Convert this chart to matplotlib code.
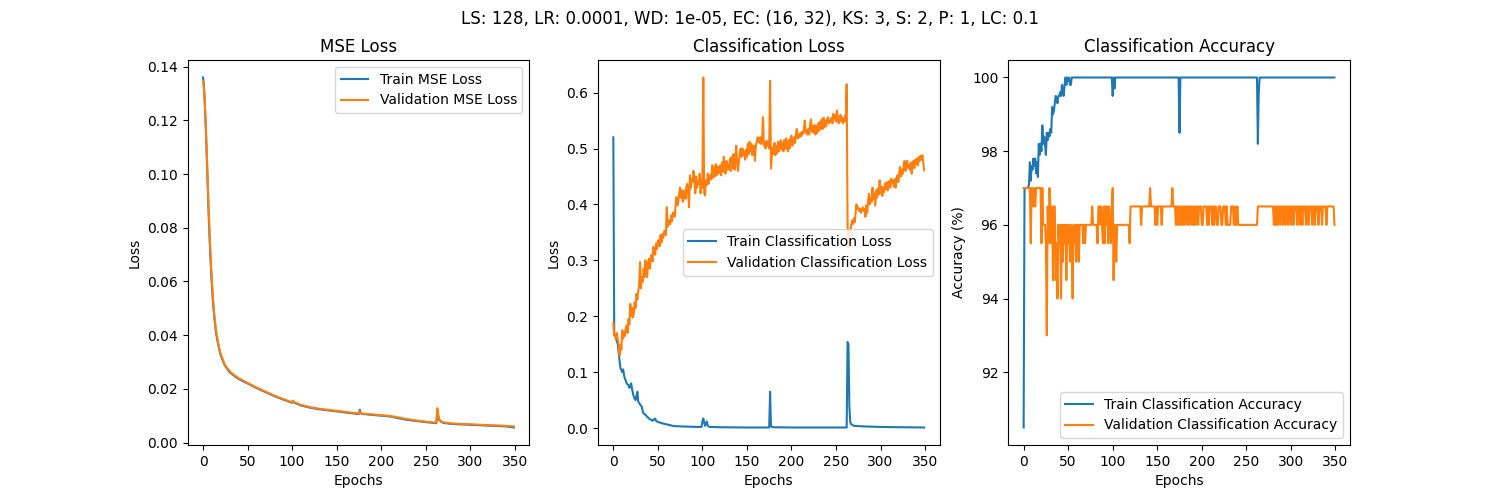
import numpy as np
import matplotlib
matplotlib.use('Agg')
import matplotlib.pyplot as plt

TITLE = 'LS: 128, LR: 0.0001, WD: 1e-05, EC: (16, 32), KS: 3, S: 2, P: 1, LC: 0.1'
N_EPOCHS = 350

# MSE loss at the epochs listed
mse_epochs = [0, 1, 2, 3, 4, 5, 6, 7, 8, 9, 10, 11, 12, 13, 14, 15, 17, 19, 21, 24,
              27, 30, 35, 40, 45, 50, 60, 70, 80, 90, 99, 100, 101, 102, 110, 120,
              130, 140, 150, 160, 170, 175, 176, 177, 178, 190, 200, 210, 220, 230,
              240, 250, 262, 263, 264, 265, 267, 270, 280, 300, 320, 340, 349]
train_mse = [0.136, 0.133, 0.126, 0.118, 0.108, 0.098, 0.088, 0.079, 0.071, 0.064,
             0.058, 0.053, 0.049, 0.0455, 0.0425, 0.040, 0.0365, 0.0335, 0.0315, 0.029,
             0.0275, 0.0262, 0.0248, 0.0237, 0.0228, 0.0220, 0.0203, 0.0188, 0.0173, 0.0160,
             0.0149, 0.0148, 0.0155, 0.0149, 0.0138, 0.0130, 0.0124, 0.0120, 0.0116, 0.0112,
             0.0108, 0.0106, 0.0122, 0.0110, 0.0107, 0.0103, 0.0100, 0.0097, 0.0090, 0.0084,
             0.0080, 0.0076, 0.0072, 0.0120, 0.0100, 0.0085, 0.0078, 0.0073, 0.0069, 0.0066,
             0.0063, 0.0060, 0.0056]
val_mse = [0.1345, 0.132, 0.127, 0.119, 0.110, 0.100, 0.090, 0.081, 0.073, 0.066,
           0.060, 0.0545, 0.050, 0.0465, 0.0435, 0.041, 0.037, 0.034, 0.032, 0.0293,
           0.0278, 0.0265, 0.0251, 0.0240, 0.0231, 0.0222, 0.0205, 0.0190, 0.0175, 0.0162,
           0.0151, 0.0150, 0.0156, 0.0151, 0.0140, 0.0132, 0.0126, 0.0122, 0.0118, 0.0114,
           0.0110, 0.0108, 0.0116, 0.0110, 0.0108, 0.0105, 0.0102, 0.0099, 0.0093, 0.0087,
           0.0082, 0.0078, 0.0074, 0.0128, 0.0105, 0.0088, 0.0080, 0.0075, 0.0071, 0.0068,
           0.0065, 0.0062, 0.0060]

# train classification loss
cls_epochs = [0, 1, 2, 3, 4, 5, 6, 7, 8, 9, 10, 11, 12, 13, 14, 15, 16, 17, 18, 19,
              20, 21, 22, 23, 24, 25, 26, 27, 28, 29, 30, 31, 32, 33, 34, 35, 36, 37, 38, 39,
              40, 41, 42, 43, 44, 45, 46, 47, 48, 50, 53, 56, 60, 64, 68, 75, 85, 95, 99,
              100, 101, 102, 103, 104, 105, 106, 108, 120, 150, 175, 176, 177, 179, 200,
              262, 263, 264, 265, 266, 267, 270, 280, 300, 320, 349]
train_cls_loss = [0.52, 0.17, 0.165, 0.16, 0.155, 0.15, 0.135, 0.12, 0.107, 0.104,
                  0.10, 0.105, 0.095, 0.088, 0.085, 0.08, 0.078, 0.077, 0.072, 0.075,
                  0.08, 0.07, 0.062, 0.056, 0.052, 0.05, 0.058, 0.065, 0.047, 0.045,
                  0.042, 0.04, 0.038, 0.03, 0.026, 0.025, 0.024, 0.022, 0.02, 0.019,
                  0.017, 0.016, 0.015, 0.014, 0.013, 0.014, 0.016, 0.017, 0.013, 0.011,
                  0.0095, 0.008, 0.0065, 0.005, 0.0036, 0.003, 0.0025, 0.002, 0.002,
                  0.012, 0.017, 0.01, 0.004, 0.008, 0.012, 0.004, 0.002, 0.0015, 0.001,
                  0.001, 0.065, 0.003, 0.0015, 0.001,
                  0.001, 0.154, 0.15, 0.04, 0.011, 0.007, 0.004, 0.003, 0.002, 0.0015, 0.001]

# validation classification loss, one value per epoch
val_cls_loss = [
    0.188, 0.165, 0.169, 0.160, 0.170, 0.158, 0.150, 0.130, 0.148, 0.140,
    0.175, 0.160, 0.172, 0.165, 0.180, 0.184, 0.170, 0.195, 0.185, 0.222,
    0.200, 0.215, 0.198, 0.205, 0.225, 0.215, 0.240, 0.230, 0.246, 0.255,
    0.297, 0.250, 0.270, 0.262, 0.285, 0.270, 0.300, 0.282, 0.270, 0.295,
    0.303, 0.285, 0.300, 0.310, 0.298, 0.324, 0.315, 0.310, 0.330, 0.320,
    0.335, 0.336, 0.325, 0.345, 0.332, 0.347, 0.340, 0.352, 0.353, 0.345,
    0.395, 0.360, 0.372, 0.365, 0.365, 0.380, 0.370, 0.385, 0.386, 0.378,
    0.400, 0.413, 0.398, 0.405, 0.420, 0.430, 0.412, 0.425, 0.405, 0.419,
    0.425, 0.410, 0.432, 0.437, 0.420, 0.395, 0.452, 0.430, 0.445, 0.440,
    0.460, 0.448, 0.420, 0.450, 0.430, 0.442, 0.437, 0.455, 0.420, 0.445,
    0.430, 0.627, 0.420, 0.416, 0.443, 0.435, 0.455, 0.437, 0.448, 0.452,
    0.445, 0.470, 0.448, 0.466, 0.450, 0.472, 0.452, 0.468, 0.455, 0.462,
    0.470, 0.452, 0.475, 0.458, 0.485, 0.462, 0.455, 0.478, 0.462, 0.470,
    0.462, 0.482, 0.460, 0.485, 0.465, 0.490, 0.462, 0.480, 0.505, 0.472,
    0.460, 0.478, 0.492, 0.500, 0.485, 0.500, 0.488, 0.495, 0.480, 0.498,
    0.485, 0.508, 0.490, 0.512, 0.495, 0.508, 0.488, 0.502, 0.505, 0.478,
    0.505, 0.512, 0.520, 0.518, 0.510, 0.520, 0.508, 0.515, 0.556, 0.505,
    0.510, 0.500, 0.514, 0.505, 0.512, 0.500, 0.621, 0.464, 0.490, 0.502,
    0.490, 0.510, 0.488, 0.505, 0.492, 0.512, 0.495, 0.508, 0.515, 0.498,
    0.510, 0.495, 0.515, 0.500, 0.518, 0.502, 0.495, 0.515, 0.500, 0.518,
    0.523, 0.505, 0.512, 0.520, 0.510, 0.525, 0.535, 0.518, 0.525, 0.520,
    0.528, 0.522, 0.530, 0.526, 0.535, 0.550, 0.528, 0.532, 0.525, 0.535,
    0.525, 0.545, 0.552, 0.530, 0.540, 0.528, 0.542, 0.525, 0.540, 0.528,
    0.545, 0.532, 0.548, 0.535, 0.552, 0.535, 0.555, 0.538, 0.550, 0.540,
    0.552, 0.556, 0.545, 0.550, 0.548, 0.555, 0.545, 0.562, 0.552, 0.559,
    0.548, 0.568, 0.555, 0.545, 0.552, 0.560, 0.548, 0.555, 0.545, 0.550,
    0.558, 0.548, 0.615, 0.360, 0.324, 0.355, 0.350, 0.362, 0.371, 0.365,
    0.375, 0.368, 0.385, 0.400, 0.392, 0.395, 0.388, 0.392, 0.385, 0.390,
    0.395, 0.388, 0.392, 0.378, 0.398, 0.385, 0.405, 0.419, 0.400, 0.412,
    0.405, 0.430, 0.410, 0.420, 0.398, 0.425, 0.412, 0.428, 0.418, 0.443,
    0.420, 0.432, 0.415, 0.430, 0.422, 0.437, 0.428, 0.440, 0.425, 0.435,
    0.442, 0.430, 0.446, 0.438, 0.443, 0.432, 0.445, 0.430, 0.448, 0.452,
    0.440, 0.458, 0.467, 0.450, 0.462, 0.455, 0.470, 0.478, 0.460, 0.472,
    0.478, 0.465, 0.470, 0.462, 0.475, 0.455, 0.470, 0.478, 0.465, 0.480,
    0.472, 0.482, 0.470, 0.485, 0.478, 0.487, 0.480, 0.488, 0.475, 0.461,
]

# train accuracy, read at the epochs listed
acc_epochs = list(range(0, 55)) + [99, 100, 101, 102, 103, 174, 175, 176,
                                   262, 263, 264, 265, 349]
train_acc = [90.5, 97.0, 97.0, 97.0, 97.0, 97.0, 97.1, 97.7, 97.2, 97.6,
             97.5, 97.8, 97.6, 97.8, 97.4, 97.7, 97.3, 98.2, 97.9, 98.2,
             98.0, 98.7, 98.2, 98.4, 98.2, 97.9, 98.5, 98.3, 98.5, 98.4,
             98.6, 98.5, 99.2, 99.0, 99.1, 99.3, 99.5, 99.4, 99.3, 99.5,
             99.5, 99.6, 99.5, 99.8, 99.7, 99.5, 99.8, 100.0, 99.8, 100.0,
             99.9, 100.0, 99.8, 99.8, 100.0,
             100.0, 99.5, 100.0, 99.7, 100.0, 100.0, 98.5, 100.0,
             100.0, 98.2, 99.6, 100.0, 100.0]

# validation accuracy, one value per epoch
val_acc = [
    97, 97, 97, 97, 97, 97, 97, 97, 95.5, 97,
    97, 96.5, 97, 96.5, 97, 97, 97, 97, 97, 97,
    95.5, 97, 96, 96, 96, 95.5, 93, 96.5, 95.5, 97,
    96.5, 95.5, 96.5, 94.5, 96.5, 96.5, 94.5, 95.5, 94, 96,
    95.5, 96, 94, 96, 95, 96, 95.5, 96, 94.5, 96,
    95.5, 96, 95, 96, 95.5, 94, 96, 95.5, 96, 95,
    96, 96, 95, 96, 96, 96, 96, 95.5, 96, 95.5,
    96, 96, 96, 96, 96, 96, 96, 96.5, 96, 96,
    96, 96, 96, 95.5, 96.5, 96.5, 96, 96.5, 96, 95.5,
    96.5, 95.5, 96.5, 96, 96.5, 95.5, 96.5, 96, 95.5, 96.5,
    97, 94.5, 96, 96, 95, 96, 96, 96, 96, 96,
    96, 96, 96, 96, 96, 96, 96, 96, 96, 95.5,
    96.5, 96.5, 96.5, 96.5, 96.5, 96.5, 96.5, 96.5, 96.5, 96.5,
    96.5, 96.5, 96, 96.5, 96.5, 96.5, 96.5, 96.5, 96.5, 96.5,
    96.5, 96.5, 97, 96.5, 96.5, 96.5, 96.5, 96.5, 96, 96.5,
    96, 96.5, 96.5, 96.5, 96.5, 96, 96.5, 96.5, 96.5, 96.5,
    96.5, 96.5, 96.5, 96.5, 96.5, 96.5, 96.5, 97, 96.5, 96.5,
    96.5, 96, 96.5, 96, 96.5, 96, 96.5, 96, 96.5, 96,
    96.5, 96, 96.5, 96.5, 96, 96.5, 96, 96.5, 96.5, 96,
    96.5, 96, 96.5, 96, 96.5, 96.5, 96, 96.5, 96.5, 96.5,
    96, 96, 96.5, 96.5, 96.5, 96.5, 96, 96.5, 96, 96.5,
    96.5, 96.5, 96, 96.5, 96, 96.5, 96.5, 96, 96, 96.5,
    96.5, 96.5, 96, 96, 96.5, 96.5, 96.5, 96, 96.5, 96,
    96, 96, 96, 96.5, 96.5, 96.5, 96, 96.5, 96, 96,
    96.5, 96, 96, 96, 96, 96, 96, 96, 96, 96,
    96, 96, 96, 96, 96, 96, 96, 96, 96, 96,
    96, 96, 96, 96.5, 96.5, 96.5, 96.5, 96.5, 96.5, 96.5,
    96.5, 96.5, 96.5, 96.5, 96.5, 96.5, 96.5, 96.5, 96.5, 96.5,
    96.5, 96, 96.5, 96, 96.5, 96, 96.5, 96.5, 96, 96.5,
    96.5, 96, 96.5, 96.5, 96, 96.5, 96.5, 96, 96.5, 96.5,
    96, 96.5, 96.5, 96, 96.5, 96.5, 96.5, 96, 96.5, 96.5,
    96, 96.5, 96.5, 96, 96.5, 96.5, 96.5, 96, 96.5, 96.5,
    96, 96.5, 96.5, 96.5, 96, 96.5, 96.5, 96, 96.5, 96.5,
    96.5, 96, 96.5, 96.5, 96.5, 96, 96.5, 96.5, 96.5, 96.5,
    96, 96.5, 96.5, 96.5, 96.5, 96.5, 96.5, 96.5, 96.5, 96,
]


def main():
    epochs = np.arange(N_EPOCHS)

    fig, axes = plt.subplots(1, 3, figsize=(15, 5))

    ax = axes[0]
    ax.plot(mse_epochs, train_mse, label='Train MSE Loss')
    ax.plot(mse_epochs, val_mse, label='Validation MSE Loss')
    ax.set(title='MSE Loss', xlabel='Epochs', ylabel='Loss')
    ax.legend(loc='upper right')

    ax = axes[1]
    ax.plot(cls_epochs, train_cls_loss, label='Train Classification Loss')
    ax.plot(epochs, val_cls_loss, label='Validation Classification Loss')
    ax.set(title='Classification Loss', xlabel='Epochs', ylabel='Loss')
    ax.legend(loc='center right')

    ax = axes[2]
    ax.plot(acc_epochs, train_acc, label='Train Classification Accuracy')
    ax.plot(epochs, val_acc, label='Validation Classification Accuracy')
    ax.set(title='Classification Accuracy', xlabel='Epochs', ylabel='Accuracy (%)')
    ax.legend(loc='lower right')

    fig.suptitle(TITLE)
    fig.savefig('out.png', dpi=100)


if __name__ == '__main__':
    main()
